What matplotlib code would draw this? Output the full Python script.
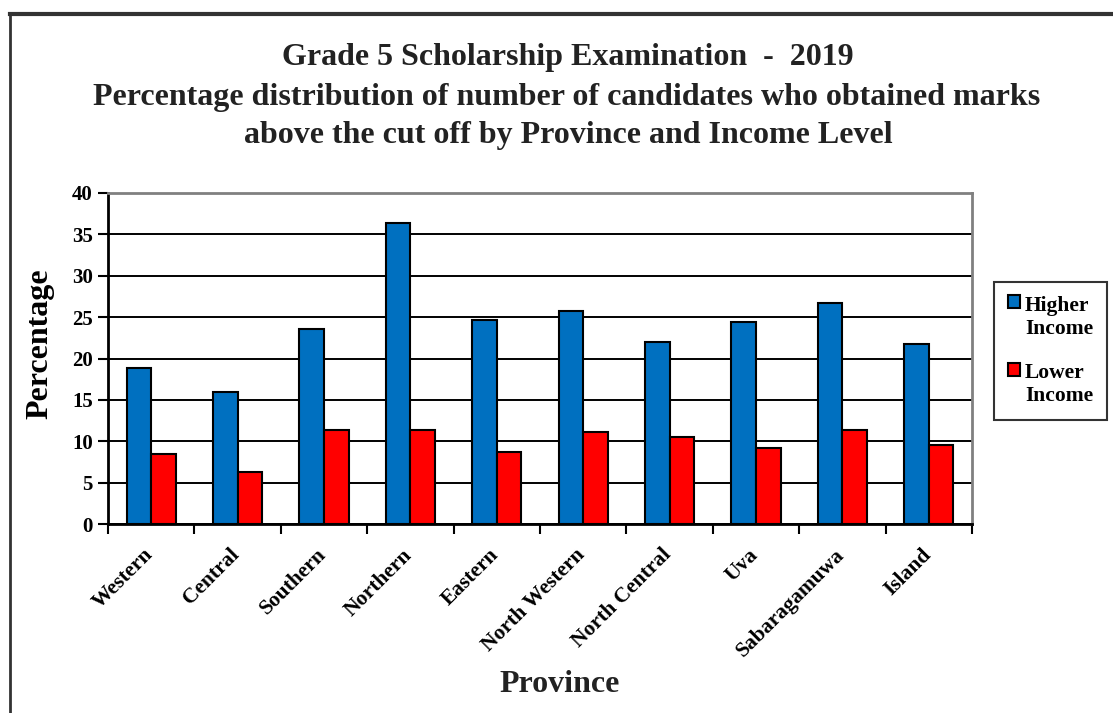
import matplotlib
matplotlib.use("Agg")
import matplotlib.pyplot as plt
import matplotlib.transforms as mtransforms
import numpy as np
from matplotlib.lines import Line2D
from matplotlib.patches import Rectangle
from matplotlib.container import BarContainer
from matplotlib.legend_handler import HandlerPatch, update_from_first_child

provinces = ["Western", "Central", "Southern", "Northern", "Eastern", "North Western",
             "North Central", "Uva", "Sabaragamuwa", "Island"]
higher_income = [18.8, 15.9, 23.6, 36.4, 24.6, 25.7, 22.0, 24.4, 26.7, 21.7]
lower_income = [8.4, 6.3, 11.3, 11.3, 8.7, 11.1, 10.5, 9.2, 11.3, 9.5]
yticks = [0, 5, 10, 15, 20, 25, 30, 35, 40]

plt.rcParams['font.family'] = ['Liberation Serif', 'DejaVu Serif']
plt.rcParams['font.weight'] = 'bold'

W, H = 1113, 713
fig = plt.figure(figsize=(W/100, H/100), dpi=100)
ax = fig.add_axes([108/W, 1-524/H, (972-108)/W, (524-193)/H])

x = np.arange(len(provinces))
w = 0.2857
ax.bar(x - w/2, higher_income, w, color='#0070C0', edgecolor='black', linewidth=1.5,
       label='Higher\nIncome', zorder=3)
ax.bar(x + w/2, lower_income, w, color='#FF0000', edgecolor='black', linewidth=1.5,
       label='Lower\nIncome', zorder=3)

ax.set_xlim(-0.5, len(provinces) - 0.5)
ax.set_ylim(0, 40)
ax.set_yticks(yticks)
ax.set_yticklabels([str(v) for v in yticks], fontsize=15, fontweight='bold')
ax.yaxis.grid(True, color='black', linewidth=1.4, zorder=0)
ax.set_axisbelow(True)

ax.set_xticks(np.arange(len(provinces) + 1) - 0.5, minor=False)
ax.set_xticklabels([])
ax.set_xticks(x, minor=True)
ax.set_xticklabels(provinces, minor=True, rotation=45, ha='right', va='top',
                   fontsize=15.5, fontweight='bold', rotation_mode='anchor')
ax.tick_params(axis='x', which='minor', length=0, pad=15)
ax.tick_params(axis='x', which='major', length=7, width=1.5, direction='out')
ax.tick_params(axis='y', length=7, width=1.5, direction='out', pad=4)
offset = mtransforms.ScaledTranslation(-8/100, 0, fig.dpi_scale_trans)
for lbl in ax.get_xticklabels(minor=True):
    lbl.set_transform(lbl.get_transform() + offset)

for s in ['left', 'bottom']:
    ax.spines[s].set_linewidth(2)
    ax.spines[s].set_color('black')
for s in ['top', 'right']:
    ax.spines[s].set_linewidth(2)
    ax.spines[s].set_color('#808080')

fig.text(40/W, 1-344/H, 'Percentage', ha='center', va='center', rotation=90,
         fontsize=23, fontweight='bold')
fig.text(560/W, 1-685/H, 'Province', ha='center', va='center',
         fontsize=23, fontweight='bold', color='#222222')

fig.text(568/W, 1-57/H, 'Grade 5 Scholarship Examination  -  2019',
         ha='center', va='center', fontsize=23, fontweight='bold', color='#222222')
fig.text(567/W, 1-98/H, 'Percentage distribution of number of candidates who obtained marks',
         ha='center', va='center', fontsize=23, fontweight='bold', color='#222222')
fig.text(568/W, 1-136/H, 'above the cut off by Province and Income Level',
         ha='center', va='center', fontsize=23, fontweight='bold', color='#222222')


def top_patch(legend, orig_handle, xdescent, ydescent, width, height, fontsize):
    shift = 0.72 * fontsize
    return Rectangle((-xdescent, -ydescent + shift), width, height)


leg = fig.legend(loc='center', bbox_to_anchor=(1050.5/W, 1-351/H), frameon=True,
                 fancybox=False, edgecolor='black', prop={'weight': 'bold', 'size': 15.5},
                 handlelength=0.55, handleheight=0.55, handletextpad=0.25, labelspacing=1.15,
                 borderpad=0.65,
                 handler_map={BarContainer: HandlerPatch(patch_func=top_patch,
                                                         update_func=update_from_first_child)})
leg.get_frame().set_linewidth(1.5)
for t in leg.get_texts():
    t.set_linespacing(1.2)
    t.set_multialignment('left')

# outer frame (partially cut in the reference)
fig.add_artist(Line2D([10/W, 1], [1-14/H, 1-14/H], transform=fig.transFigure,
                      color='#333333', linewidth=3))
fig.add_artist(Line2D([10/W, 10/W], [0, 1-14/H], transform=fig.transFigure,
                      color='#333333', linewidth=2))

fig.savefig('out.png', dpi=100)
